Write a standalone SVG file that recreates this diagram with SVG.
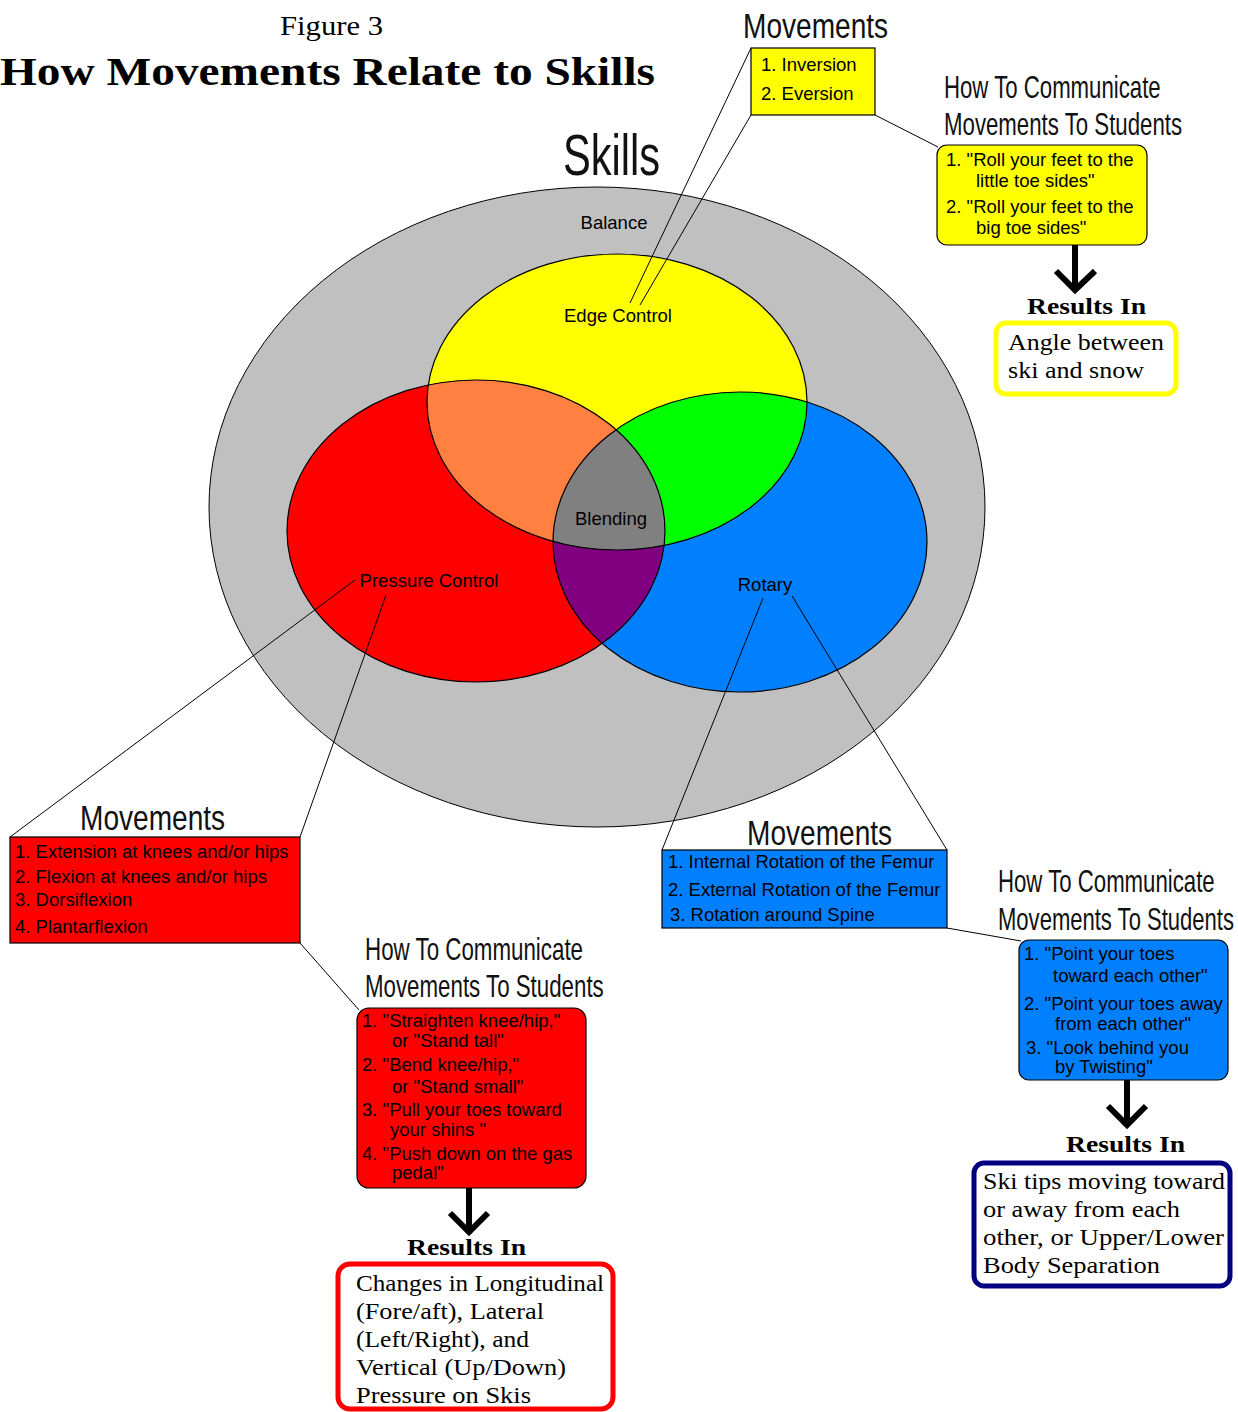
<svg xmlns="http://www.w3.org/2000/svg" width="1238" height="1412" viewBox="0 0 1238 1412">
<style>
.t{font-family:"Liberation Sans",Arial,sans-serif;font-size:18.5px;fill:#000}
.h{font-family:"Liberation Sans",Arial,sans-serif;fill:#111}
.s{font-family:"Liberation Serif","Times New Roman",serif;fill:#000}
.rb{font-family:"Liberation Serif","Times New Roman",serif;font-weight:bold;font-size:24px;fill:#000}
.r{font-family:"Liberation Serif","Times New Roman",serif;font-size:24px;fill:#000}
.ln{stroke:#000;stroke-width:1;fill:none}
.ed{stroke:#000;stroke-width:1.2;fill:none}
.arr{stroke:#000;stroke-width:6;fill:none;stroke-linejoin:miter}
</style>
<defs>
<clipPath id="cy"><ellipse cx="617" cy="402" rx="190" ry="148"/></clipPath>
<clipPath id="cr"><ellipse cx="476" cy="531" rx="189" ry="151"/></clipPath>
<clipPath id="cry" clip-path="url(#cy)"><ellipse cx="476" cy="531" rx="189" ry="151"/></clipPath>
</defs>
<rect width="1238" height="1412" fill="#fff"/>

<g id="title">
<text class="s" x="280" y="35" font-size="27" textLength="103" lengthAdjust="spacingAndGlyphs">Figure 3</text>
<text class="s" x="0" y="85" font-size="40" font-weight="bold" textLength="655" lengthAdjust="spacingAndGlyphs">How Movements Relate to Skills</text>
</g>

<g id="venn">
<ellipse id="balance" cx="597" cy="507" rx="388" ry="320" fill="#c0c0c0" stroke="#000" stroke-width="1"/>
<text class="h" transform="translate(563 175) scale(0.72 1)" font-size="58" textLength="135" lengthAdjust="spacingAndGlyphs">Skills</text>
<ellipse cx="617" cy="402" rx="190" ry="148" fill="#ffff00"/>
<ellipse cx="476" cy="531" rx="189" ry="151" fill="#ff0000"/>
<ellipse cx="740" cy="542" rx="187" ry="150" fill="#0080ff"/>
<ellipse cx="476" cy="531" rx="189" ry="151" fill="#ff8040" clip-path="url(#cy)"/>
<ellipse cx="740" cy="542" rx="187" ry="150" fill="#00ff00" clip-path="url(#cy)"/>
<ellipse cx="740" cy="542" rx="187" ry="150" fill="#800080" clip-path="url(#cr)"/>
<ellipse cx="740" cy="542" rx="187" ry="150" fill="#808080" clip-path="url(#cry)"/>
<ellipse class="ed" cx="617" cy="402" rx="190" ry="148"/>
<ellipse class="ed" cx="476" cy="531" rx="189" ry="151"/>
<ellipse class="ed" cx="740" cy="542" rx="187" ry="150"/>
<text class="t" x="614" y="229" text-anchor="middle">Balance</text>
<text class="t" x="618" y="322" text-anchor="middle">Edge Control</text>
<text class="t" x="611" y="525" text-anchor="middle">Blending</text>
<text class="t" x="429" y="587" text-anchor="middle">Pressure Control</text>
<text class="t" x="765" y="591" text-anchor="middle">Rotary</text>
</g>

<g id="connectors">
<line class="ln" x1="630" y1="303" x2="751" y2="48"/>
<line class="ln" x1="640" y1="305" x2="751" y2="115"/>
<line class="ln" x1="875" y1="115" x2="938" y2="147"/>
<line class="ln" x1="355" y1="580" x2="10" y2="837"/>
<line class="ln" x1="386" y1="595" x2="300" y2="837"/>
<line class="ln" x1="300" y1="943" x2="359" y2="1010"/>
<line class="ln" x1="763" y1="598" x2="662" y2="850"/>
<line class="ln" x1="792" y1="596" x2="947" y2="850"/>
<line class="ln" x1="947" y1="928" x2="1021" y2="941"/>
<path class="arr" d="M1075 245 V288 M1056 271 L1075 290 L1095 271"/>
<path class="arr" d="M469 1188 V1230 M450 1213 L469 1232 L488 1213"/>
<path class="arr" d="M1127 1080 V1123 M1108 1106 L1127 1125 L1146 1106"/>
</g>

<g id="edge-movements">
<text class="h" transform="translate(743 38) scale(0.78 1)" font-size="36" textLength="186" lengthAdjust="spacingAndGlyphs">Movements</text>
<rect x="751" y="48" width="124" height="67" fill="#ffff00" stroke="#000" stroke-width="1.2"/>
<text class="t" x="761" y="71">1. Inversion</text>
<text class="t" x="761" y="100">2. Eversion</text>
</g>

<g id="edge-communicate">
<text class="h" transform="translate(944 98) scale(0.69 1)" font-size="32" textLength="314" lengthAdjust="spacingAndGlyphs">How To Communicate</text>
<text class="h" transform="translate(944 135) scale(0.69 1)" font-size="32" textLength="345" lengthAdjust="spacingAndGlyphs">Movements To Students</text>
<rect x="937" y="145" width="210" height="100" rx="10" fill="#ffff00" stroke="#000" stroke-width="1.2"/>
<text class="t" x="946" y="166">1. "Roll your feet to the</text>
<text class="t" x="976" y="187">little toe sides"</text>
<text class="t" x="946" y="213">2. "Roll your feet to the</text>
<text class="t" x="976" y="234">big toe sides"</text>
</g>

<g id="edge-results">
<text class="rb" x="1027" y="314" textLength="119" lengthAdjust="spacingAndGlyphs">Results In</text>
<rect x="996" y="323" width="180" height="71" rx="10" fill="#fff" stroke="#ffff00" stroke-width="5"/>
<text class="r" x="1008" y="350" textLength="156" lengthAdjust="spacingAndGlyphs">Angle between</text>
<text class="r" x="1008" y="378" textLength="136" lengthAdjust="spacingAndGlyphs">ski and snow</text>
</g>

<g id="pressure-movements">
<text class="h" transform="translate(80 830) scale(0.78 1)" font-size="36" textLength="186" lengthAdjust="spacingAndGlyphs">Movements</text>
<rect x="10" y="837" width="290" height="106" fill="#ff0000" stroke="#000" stroke-width="1.2"/>
<text class="t" x="15" y="858">1. Extension at knees and/or hips</text>
<text class="t" x="15" y="883">2. Flexion at knees and/or hips</text>
<text class="t" x="15" y="906">3. Dorsiflexion</text>
<text class="t" x="15" y="933">4. Plantarflexion</text>
</g>

<g id="pressure-communicate">
<text class="h" transform="translate(365 960) scale(0.69 1)" font-size="32" textLength="316" lengthAdjust="spacingAndGlyphs">How To Communicate</text>
<text class="h" transform="translate(365 997) scale(0.69 1)" font-size="32" textLength="346" lengthAdjust="spacingAndGlyphs">Movements To Students</text>
<rect x="357" y="1008" width="229" height="180" rx="12" fill="#ff0000" stroke="#000" stroke-width="1.2"/>
<text class="t" x="362" y="1027">1. "Straighten knee/hip,"</text>
<text class="t" x="392" y="1047">or "Stand tall"</text>
<text class="t" x="362" y="1071">2. "Bend knee/hip,"</text>
<text class="t" x="392" y="1093">or "Stand small"</text>
<text class="t" x="362" y="1116">3. "Pull your toes toward</text>
<text class="t" x="390" y="1136">your shins "</text>
<text class="t" x="362" y="1160">4. "Push down on the gas</text>
<text class="t" x="392" y="1179">pedal"</text>
</g>

<g id="pressure-results">
<text class="rb" x="407" y="1255" textLength="119" lengthAdjust="spacingAndGlyphs">Results In</text>
<rect x="338" y="1264" width="275" height="145" rx="12" fill="#fff" stroke="#ff0000" stroke-width="5"/>
<text class="r" x="356" y="1291" textLength="248" lengthAdjust="spacingAndGlyphs">Changes in Longitudinal</text>
<text class="r" x="356" y="1319" textLength="188" lengthAdjust="spacingAndGlyphs">(Fore/aft), Lateral</text>
<text class="r" x="356" y="1347" textLength="173" lengthAdjust="spacingAndGlyphs">(Left/Right), and</text>
<text class="r" x="356" y="1375" textLength="210" lengthAdjust="spacingAndGlyphs">Vertical (Up/Down)</text>
<text class="r" x="356" y="1403" textLength="175" lengthAdjust="spacingAndGlyphs">Pressure on Skis</text>
</g>

<g id="rotary-movements">
<text class="h" transform="translate(747 845) scale(0.78 1)" font-size="36" textLength="186" lengthAdjust="spacingAndGlyphs">Movements</text>
<rect x="662" y="850" width="285" height="78" fill="#0080ff" stroke="#000" stroke-width="1.2"/>
<text class="t" x="668" y="868">1. Internal Rotation of the Femur</text>
<text class="t" x="668" y="896">2. External Rotation of the Femur</text>
<text class="t" x="670" y="921">3.  Rotation around Spine</text>
</g>

<g id="rotary-communicate">
<text class="h" transform="translate(998 892) scale(0.69 1)" font-size="32" textLength="314" lengthAdjust="spacingAndGlyphs">How To Communicate</text>
<text class="h" transform="translate(998 930) scale(0.69 1)" font-size="32" textLength="342" lengthAdjust="spacingAndGlyphs">Movements To Students</text>
<rect x="1019" y="940" width="209" height="140" rx="10" fill="#0080ff" stroke="#000" stroke-width="1.2"/>
<text class="t" x="1024" y="960">1. "Point your toes</text>
<text class="t" x="1053" y="982">toward each other"</text>
<text class="t" x="1024" y="1010">2. "Point your toes away</text>
<text class="t" x="1055" y="1030">from each other"</text>
<text class="t" x="1026" y="1054">3. "Look behind you</text>
<text class="t" x="1055" y="1073">by Twisting"</text>
</g>

<g id="rotary-results">
<text class="rb" x="1066" y="1152" textLength="119" lengthAdjust="spacingAndGlyphs">Results In</text>
<rect x="974" y="1163" width="256" height="123" rx="10" fill="#fff" stroke="#000080" stroke-width="5"/>
<text class="r" x="983" y="1189" textLength="242" lengthAdjust="spacingAndGlyphs">Ski tips moving toward</text>
<text class="r" x="983" y="1217" textLength="197" lengthAdjust="spacingAndGlyphs">or away from each</text>
<text class="r" x="983" y="1245" textLength="241" lengthAdjust="spacingAndGlyphs">other, or Upper/Lower</text>
<text class="r" x="983" y="1273" textLength="177" lengthAdjust="spacingAndGlyphs">Body Separation</text>
</g>
</svg>
